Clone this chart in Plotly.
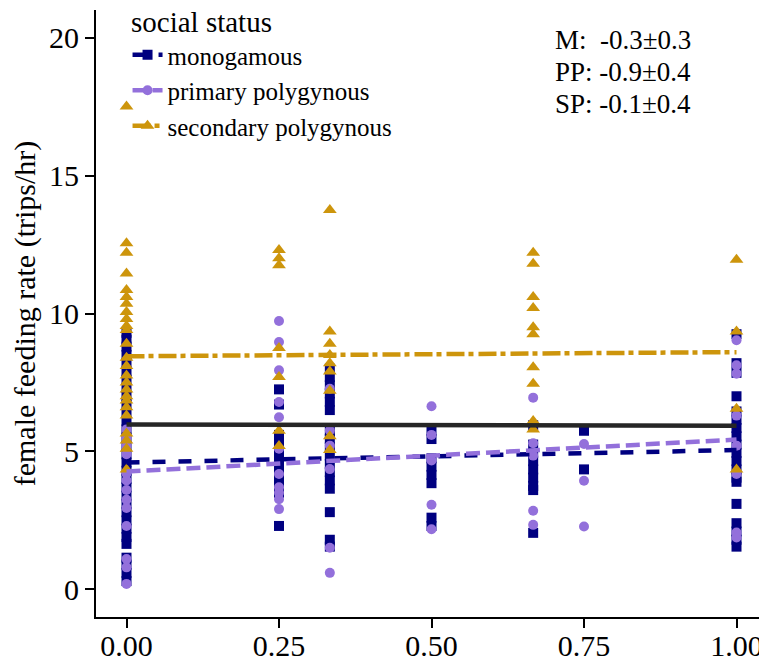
import plotly.graph_objects as go

# ---- data ----
x_levels = [0.0, 0.25, 1/3, 0.5, 2/3, 0.75, 1.0]

mono_y = [
    [9.3, 9.05, 8.8, 8.5, 8.2, 7.9, 7.6, 7.3, 7.0, 6.7, 6.4, 6.1, 5.8, 5.5, 5.2, 4.9, 4.6, 4.3, 4.0, 3.7, 3.4, 3.1, 2.8, 2.5, 2.2, 1.9, 1.65, 1.15, 0.9, 0.6, 0.3],
    [7.25, 6.7, 5.6, 5.3, 5.0, 4.7, 4.4, 4.1, 3.8, 3.5, 2.3],
    [8.0, 7.7, 7.4, 7.1, 6.8, 6.5, 5.75, 5.45, 5.15, 4.85, 4.55, 4.25, 3.95, 3.65, 2.8, 1.8, 1.55],
    [5.75, 5.45, 4.75, 4.45, 4.15, 3.85, 2.6, 2.3],
    [5.95, 5.25, 4.95, 4.65, 4.35, 4.05, 3.75, 3.6, 2.05],
    [5.75, 4.35],
    [9.25, 8.2, 7.85, 7.0, 6.45, 6.15, 5.85, 5.55, 5.25, 4.95, 4.65, 4.35, 4.05, 3.9, 3.1, 2.4, 2.1, 1.8, 1.55],
]
pp_y = [
    [5.8, 5.5, 5.2, 4.9, 4.2, 3.95, 3.6, 3.25, 2.95, 2.3, 1.1, 0.8, 0.2],
    [9.73, 8.97, 7.94, 6.79, 6.24, 5.1, 4.18, 3.7, 3.5, 3.27, 2.91],
    [7.27, 5.76, 5.21, 4.36, 1.51, 0.6],
    [6.64, 5.6, 4.67, 3.07, 2.18],
    [6.95, 5.3, 4.85, 2.85, 2.34],
    [5.27, 3.94, 2.28],
    [9.03, 8.12, 7.82, 6.3, 5.21, 4.18, 2.06, 1.88],
]
sp_y = [
    [17.5, 12.55, 12.2, 11.45, 10.85, 10.6, 10.35, 10.05, 9.8, 9.55, 9.4, 8.9, 8.4, 8.1, 7.75, 7.5, 7.25, 7.0, 6.85, 6.6, 6.3, 5.65, 5.4, 5.1, 4.35],
    [12.3, 12.0, 11.75, 8.75, 7.7, 5.75, 5.2],
    [13.75, 9.35, 8.9, 8.5, 8.2, 7.9, 7.2, 5.55, 5.05],
    [],
    [12.2, 11.8, 10.6, 10.2, 9.5, 9.25, 8.05, 7.45, 6.1, 5.8],
    [],
    [11.95, 9.35, 6.55, 4.35],
]

fit_x = [0.0, 1.0]
fit_mono = [4.6, 5.05]
fit_pp = [4.27, 5.43]
fit_sp = [8.45, 8.6]
fit_all = [5.98, 5.93]

series_names = ["monogamous", "primary polygynous", "secondary polygynous"]
legend_title = "social status"
stats_text = ["M:  -0.3\u00b10.3", "PP: -0.9\u00b10.4", "SP: -0.1\u00b10.4"]
x_ticks = [0, 0.25, 0.5, 0.75, 1.0]
x_ticktext = ["0.00", "0.25", "0.50", "0.75", "1.00"]
y_ticks = [0, 5, 10, 15, 20]

NAVY = "#000080"
PURPLE = "#9370DB"
GOLD = "#CD950C"
FONT = "Liberation Serif"


def flatten(levels, groups):
    xs, ys = [], []
    for xv, g in zip(levels, groups):
        xs += [xv] * len(g)
        ys += g
    return xs, ys


fig = go.Figure()

styles = [
    (mono_y, NAVY, "square", 10, fit_mono, "13px,13px"),
    (pp_y, PURPLE, "circle", 10, fit_pp, "14px,6px"),
    (sp_y, GOLD, "triangle-up", 12, fit_sp, "18px,4px,5px,5px"),
]

for (data, col, sym, sz, _, _d) in styles:
    xs, ys = flatten(x_levels, data)
    fig.add_trace(go.Scatter(x=xs, y=ys, mode="markers", showlegend=False,
                             marker=dict(color=col, symbol=sym, size=sz, line=dict(width=0))))

fig.add_trace(go.Scatter(x=fit_x, y=fit_all, mode="lines", showlegend=False,
                         line=dict(color="#262626", width=4.5)))

for (data, col, sym, sz, fit, dash) in styles:
    fig.add_trace(go.Scatter(x=fit_x, y=fit, mode="lines", showlegend=False,
                             line=dict(color=col, width=4.5, dash=dash)))

# legend entries
for name, (data, col, sym, sz, fit, dash) in zip(series_names, styles):
    fig.add_trace(go.Scatter(x=[None], y=[None], mode="lines+markers", name=name,
                             marker=dict(color=col, symbol=sym, size=sz),
                             line=dict(color=col, width=4.5, dash=dash)))

axis_common = dict(showline=True, linecolor="black", linewidth=2, ticks="outside",
                   ticklen=9, tickwidth=2, tickcolor="black", showgrid=False,
                   zeroline=False, automargin=False,
                   tickfont=dict(family=FONT, size=30, color="black"))

# page body offsets the figure by 8px; plot area targets window x 96-767, y 10-617
annots = []
for txt, yc in zip(stats_text, [40, 72, 104]):
    annots.append(dict(xref="paper", yref="paper", x=(553 - 96) / 671, y=1 - (yc - 10) / 607,
                       xanchor="left", yanchor="middle", align="left", showarrow=False,
                       text=txt, font=dict(family=FONT, size=27, color="black")))
annots.append(dict(xref="paper", yref="paper", x=(129 - 96) / 671, y=1 - (22 - 10) / 607,
                   xanchor="left", yanchor="middle", align="left", showarrow=False,
                   text=legend_title, font=dict(family=FONT, size=29, color="black")))

fig.update_layout(
    width=767, height=662,
    margin=dict(l=88, r=8, t=2, b=53, autoexpand=False),
    plot_bgcolor="white", paper_bgcolor="white",
    font=dict(family=FONT, color="black"),
    xaxis=dict(range=[-0.05, 1.05], tickvals=x_ticks, ticktext=x_ticktext,
               ticklabelstandoff=-8, **axis_common),
    yaxis=dict(range=[-1, 21], tickvals=y_ticks, ticklabelstandoff=0,
               title=dict(text="female feeding rate (trips/hr)", font=dict(family=FONT, size=30), standoff=9),
               **axis_common),
    legend=dict(x=0.047, y=1 - (32 - 10) / 607, xanchor="left", yanchor="top", bgcolor="rgba(0,0,0,0)",
                font=dict(family=FONT, size=25), itemwidth=30, tracegroupgap=0),
    annotations=annots,
)

fig.write_html("out.html")
